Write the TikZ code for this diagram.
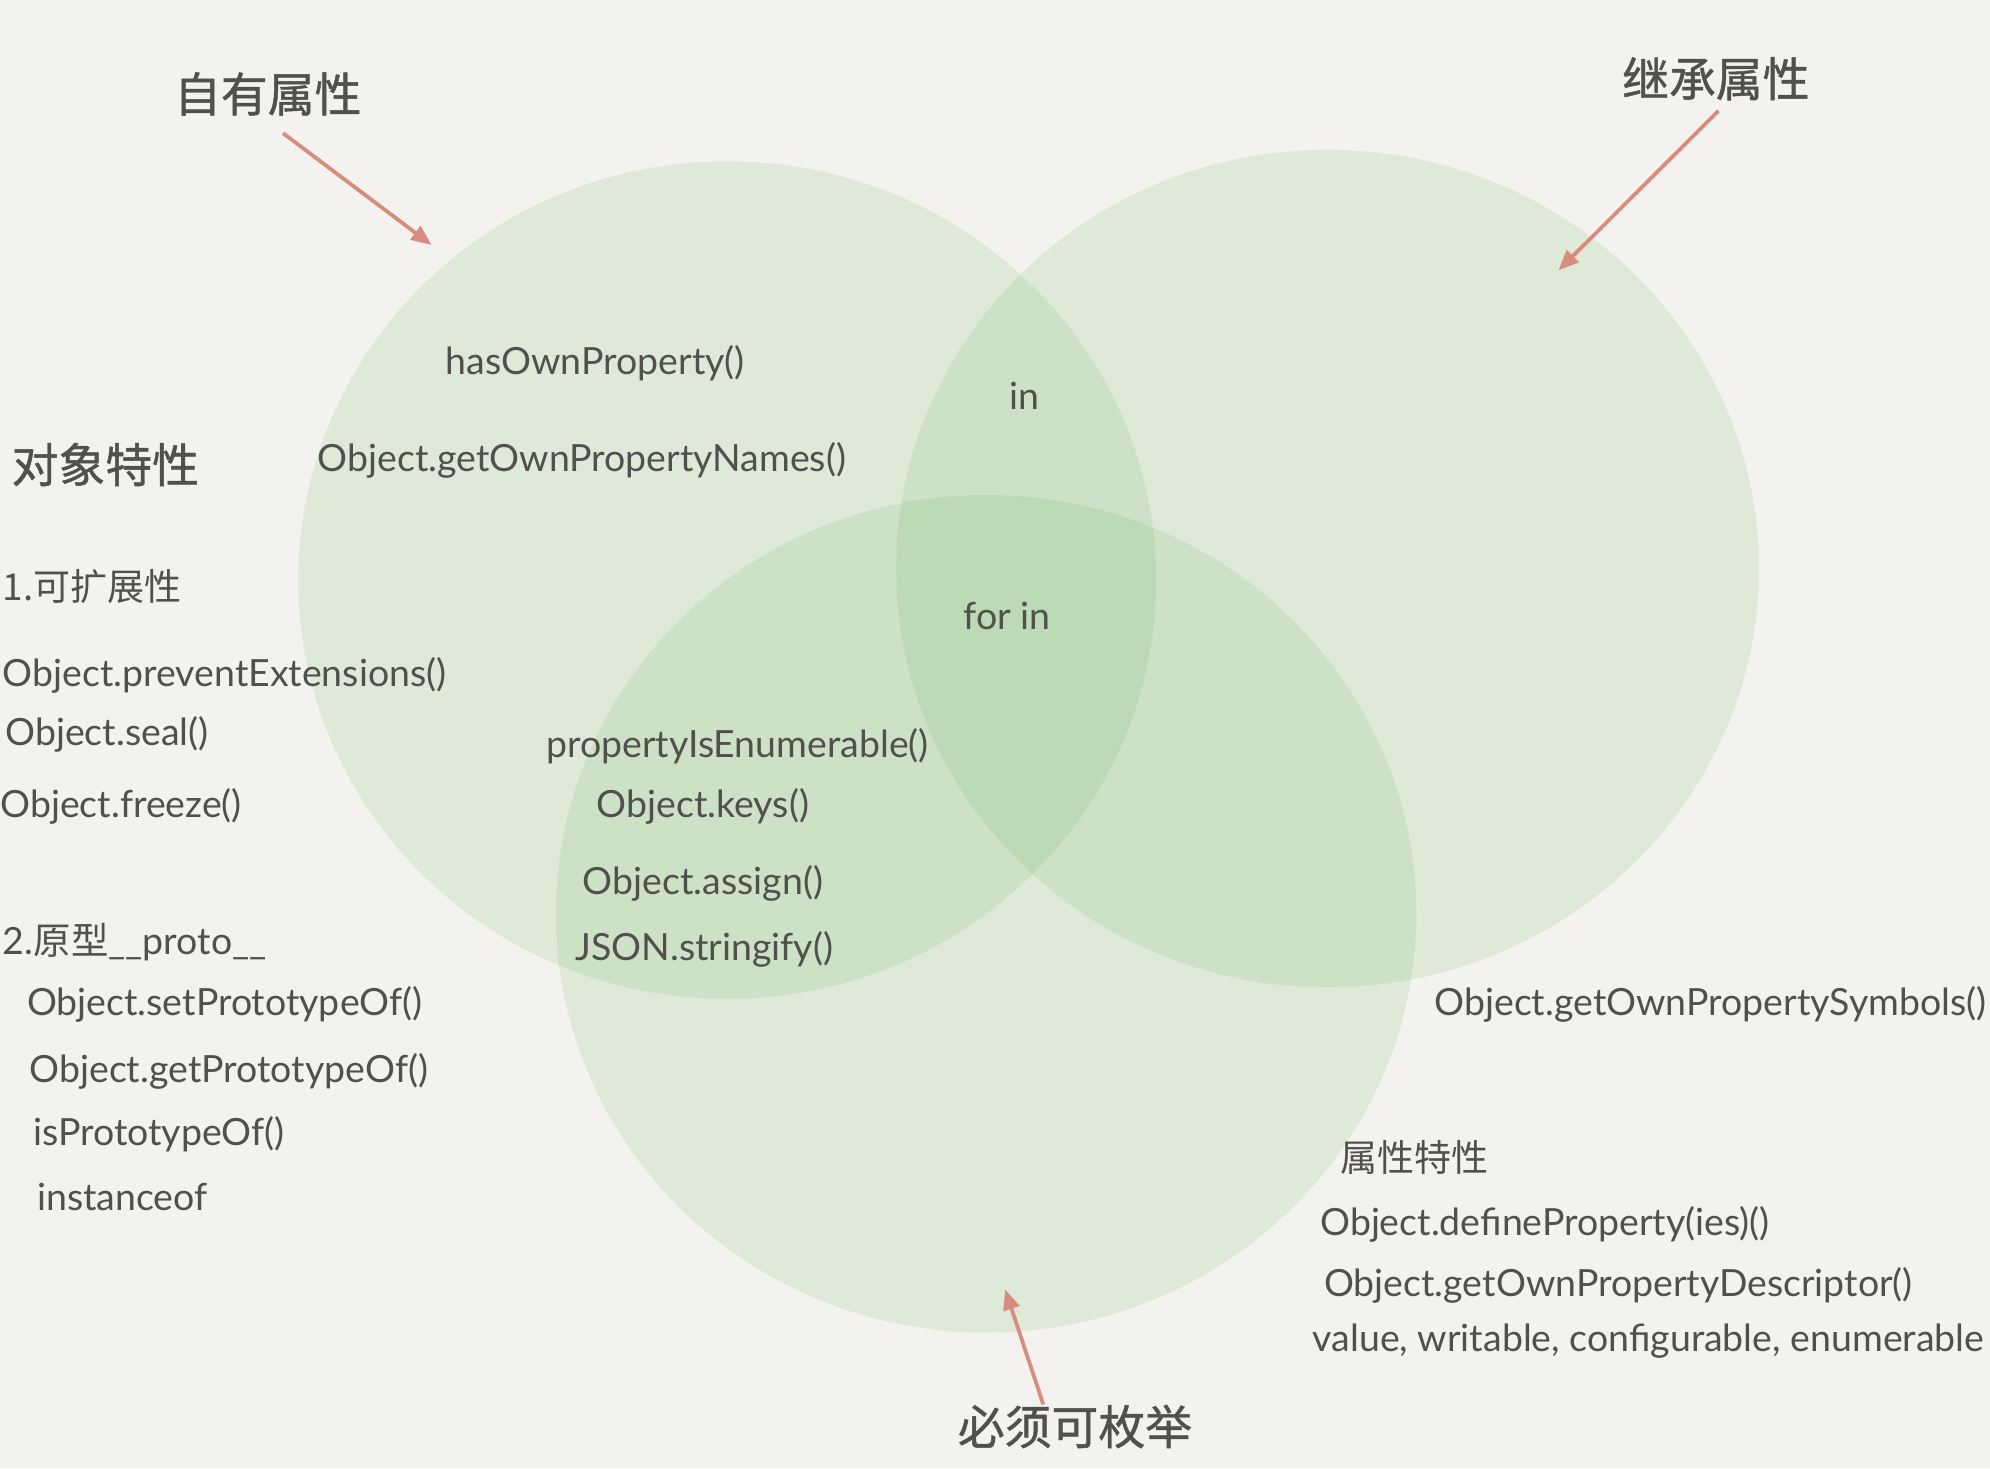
\documentclass[tikz,border=0pt]{standalone}
\usepackage{fontspec}
\setmainfont{Lato}
\newfontfamily\cjk{Noto Sans CJK SC}
\newfontfamily\cjkhead{Noto Sans CJK SC}[FakeBold=1]
\usetikzlibrary{arrows.meta}

\definecolor{paper}{RGB}{243,242,238}
\definecolor{leaf}{RGB}{103,182,91}
\definecolor{ink}{RGB}{80,80,76}
\definecolor{salmon}{RGB}{214,140,126}

\tikzset{
  blob/.style={fill=leaf,fill opacity=0.15},
  api/.style={anchor=west,inner sep=0pt,text=ink,font=\fontsize{16.8}{20}\selectfont},
  sub/.style={anchor=west,inner sep=0pt,text=ink,font=\cjk\fontsize{16.6}{20}\selectfont},
  big/.style={inner sep=0pt,text=ink,font=\cjkhead\fontsize{21}{25}\selectfont},
  arr/.style={salmon,line width=1.7pt,-{Triangle[length=0.32cm,width=0.26cm]}}
}

\begin{document}
\begin{tikzpicture}[x=0.02cm,y=-0.02cm]
\fill[paper] (0,0) rectangle (1568,1157);
\useasboundingbox (0,0) rectangle (1568,1157);

% the three sets
\fill[blob] (573,457) ellipse [x radius=6.76cm, y radius=6.6cm];
\fill[blob] (1046,448) ellipse [x radius=6.8cm, y radius=6.6cm];
\fill[blob] (777,720) ellipse [x radius=6.78cm, y radius=6.6cm];

% titles
\node[big] (own) at (211,74) {自有属性};
\node[big] (inh) at (1352,62) {继承属性};
\node[big] (obj) at (83,366) {对象特性};
\node[big] (enum) at (847,1124) {必须可枚举};

\coordinate (ownpt) at (340,193);
\coordinate (inhpt) at (1228,213);
\coordinate (enumpt) at (792,1016);
\draw[arr] ([xshift=0.24cm,yshift=-0.27cm]own.south) -- (ownpt);
\draw[arr] ([xshift=0.04cm,yshift=-0.16cm]inh.south) -- (inhpt);
\draw[arr] ([xshift=-0.5cm]enum.north) -- (enumpt);

% inside the sets
\node[api] (hasown) at (351,286) {hasOwnProperty()};
\node[api] (names) at (250,363) {Object.getOwnPropertyNames()};
\node[api] (in) at (795,312) {in};
\node[api] (forin) at (759,485) {for in};
\node[api] (isenum) at (430,588) {propertyIsEnumerable()};
\node[api] (keys) at (470,635) {Object.keys()};
\node[api] (assign) at (459,696) {Object.assign()};
\node[api] (json) at (453,748) {JSON.stringify()};
\node[api] (symbols) at (1130,791) {Object.getOwnPropertySymbols()};

% 1. extensible
\node[sub] (ext) at (2,462) {1.可扩展性};
\node[api] (prevent) at (2,532) {Object.preventExtensions()};
\node[api] (seal) at (4,579) {Object.seal()};
\node[api] (freeze) at (0,635) {Object.freeze()};

% 2. prototype
\node[api] (proto) at (2,742) {2.{\cjk 原型}\_\_proto\_\_};
\node[api] (setproto) at (21,791) {Object.setPrototypeOf()};
\node[api] (getproto) at (23,844) {Object.getPrototypeOf()};
\node[api] (isproto) at (26,894) {isPrototypeOf()};
\node[api] (inst) at (29,943) {instanceof};

% attributes
\node[sub] (attr) at (1056,912) {属性特性};
\node[api] (define) at (1040,965) {Object.defineProperty(ies)()};
\node[api] (desc) at (1043,1013) {Object.getOwnPropertyDescriptor()};
\node[api] (flags) at (1034,1057) {value, writable, configurable, enumerable};
\end{tikzpicture}
\end{document}
